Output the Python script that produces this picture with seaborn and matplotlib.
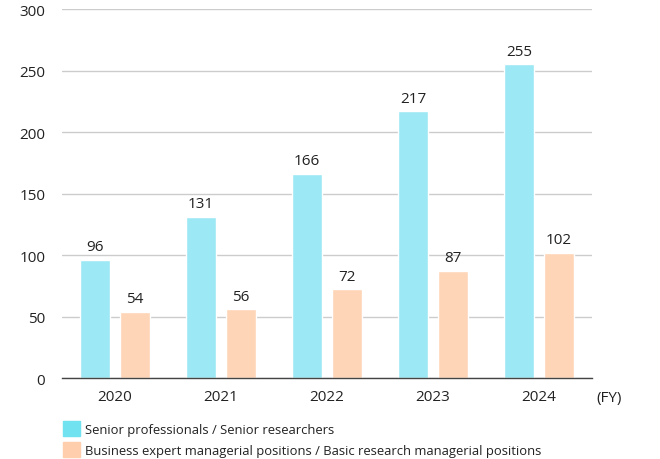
import numpy as np
import pandas as pd
import matplotlib
matplotlib.use('Agg')
import matplotlib.pyplot as plt
from matplotlib.patches import Patch
from matplotlib.ticker import FixedLocator, NullFormatter
import seaborn as sns

# --- Data ---
years = ['2020', '2021', '2022', '2023', '2024']
senior = [96, 131, 166, 217, 255]
managerial = [54, 56, 72, 87, 102]
series_names = ['Senior professionals / Senior researchers',
                'Business expert managerial positions / Basic research managerial positions']

df = pd.DataFrame({
    'year': years * 2,
    'value': senior + managerial,
    'series': [series_names[0]] * len(years) + [series_names[1]] * len(years),
})

bar_colors = ['#9ce8f4', '#ffd5b8']
legend_colors = ['#70e2f0', '#ffcfad']

sns.set_style('white')
plt.rcParams['font.family'] = ['Open Sans', 'DejaVu Sans']

fig = plt.figure(figsize=(6.6, 4.6), dpi=100)
ax = fig.add_axes([0.094, 0.176, 0.803, 0.802])

sns.barplot(data=df, x='year', y='value', hue='series', palette=bar_colors,
            saturation=1, width=0.755, gap=0.25, legend=False, ax=ax)

for cont in ax.containers:
    ax.bar_label(cont, padding=4, fontsize=11, color='#222222')

ax.set_ylim(0, 300)
ax.set_xlim(-0.5, len(years) - 0.5)
ax.set_yticks(range(0, 301, 50))
ax.grid(axis='y', color='#cccccc', linewidth=1)
ax.set_axisbelow(True)
for s in ['top', 'right', 'left']:
    ax.spines[s].set_visible(False)
ax.spines['bottom'].set_color('#444444')
ax.spines['bottom'].set_linewidth(1)

# group separators as tick marks below the axis
ax.xaxis.set_minor_locator(FixedLocator(np.arange(-0.5, len(years), 1.0)))
ax.xaxis.set_minor_formatter(NullFormatter())
ax.tick_params(axis='x', which='major', length=0, pad=8, labelsize=11, labelcolor='#222222')
ax.tick_params(axis='x', which='minor', length=5, width=1, color='#444444', direction='out')
ax.tick_params(axis='y', length=0, pad=12, labelsize=11, labelcolor='#222222')
ax.set_xlabel('')
ax.set_ylabel('')

fig.text(0.903, 0.133, '(FY)', fontsize=11, color='#222222', va='center')

handles = [Patch(color=c) for c in legend_colors]
fig.legend(handles, series_names, loc='lower left', bbox_to_anchor=(0.077, -0.022),
           frameon=False, fontsize=9.4, handlelength=1.3, handleheight=1.4,
           handletextpad=0.4, labelspacing=0.45, labelcolor='#222222')

fig.savefig('out.png', dpi=100)
